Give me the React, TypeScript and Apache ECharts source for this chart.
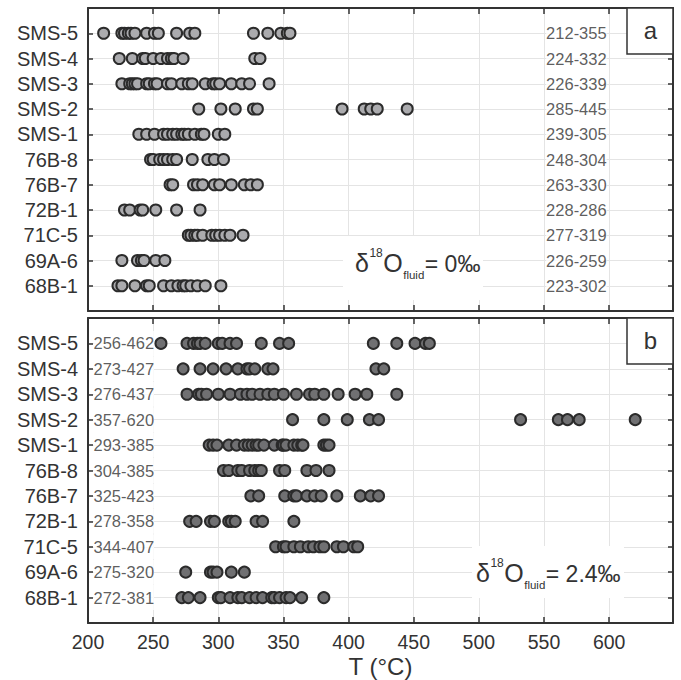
import React, { useEffect, useRef } from "react";
import * as echarts from "echarts";

// Sample names, top to bottom
const categories = ["SMS-5", "SMS-4", "SMS-3", "SMS-2", "SMS-1", "76B-8", "76B-7", "72B-1", "71C-5", "69A-6", "68B-1"];

// Temperatures (°C) for δ18O fluid = 0‰
const sms5A = [212, 226, 228, 231, 233, 236, 245, 251, 254, 268, 278, 282, 327, 338, 348, 353, 355];
const sms4A = [224, 234, 242, 244, 250, 256, 261, 264, 266, 273, 328, 332];
const sms3A = [226, 232, 234, 236, 238, 245, 247, 251, 253, 261, 264, 272, 277, 280, 290, 296, 298, 301, 310, 318, 324, 339];
const sms2A = [285, 302, 313, 327, 330, 395, 412, 417, 422, 445];
const sms1A = [239, 245, 251, 258, 261, 265, 268, 272, 274, 277, 282, 287, 289, 300, 305];
const s76B8A = [248, 250, 255, 258, 261, 265, 268, 280, 292, 297, 304];
const s76B7A = [263, 265, 281, 284, 288, 297, 301, 310, 320, 325, 330];
const s72B1A = [228, 232, 240, 242, 252, 268, 286];
const s71C5A = [277, 279, 282, 284, 288, 295, 298, 301, 305, 309, 319];
const s69A6A = [226, 238, 241, 243, 252, 259];
const s68B1A = [223, 226, 236, 245, 247, 258, 264, 269, 273, 275, 279, 284, 290, 302];

// Temperatures (°C) for δ18O fluid = 2.4‰
const sms5B = [256, 276, 281, 284, 286, 290, 300, 303, 309, 314, 333, 347, 354, 419, 437, 451, 459, 462];
const sms4B = [273, 286, 296, 306, 315, 322, 324, 328, 338, 342, 421, 427];
const sms3B = [276, 285, 287, 291, 300, 309, 317, 322, 326, 332, 338, 343, 350, 360, 370, 374, 381, 392, 405, 414, 437];
const sms2B = [357, 381, 399, 416, 423, 532, 561, 568, 577, 620];
const sms1B = [293, 296, 299, 308, 314, 320, 323, 326, 329, 331, 335, 343, 349, 350, 352, 358, 361, 364, 365, 381, 383, 385];
const s76B8B = [304, 308, 315, 318, 324, 328, 331, 333, 347, 351, 368, 375, 385];
const s76B7B = [325, 331, 351, 358, 360, 368, 374, 379, 391, 409, 417, 423];
const s72B1B = [278, 283, 294, 297, 308, 310, 313, 329, 334, 358];
const s71C5B = [344, 350, 352, 358, 363, 369, 373, 378, 381, 391, 396, 404, 407];
const s69A6B = [275, 294, 296, 299, 310, 320];
const s68B1B = [272, 277, 286, 300, 302, 309, 315, 318, 324, 329, 334, 341, 343, 347, 352, 355, 364, 381];

const setsA = [sms5A, sms4A, sms3A, sms2A, sms1A, s76B8A, s76B7A, s72B1A, s71C5A, s69A6A, s68B1A];
const setsB = [sms5B, sms4B, sms3B, sms2B, sms1B, s76B8B, s76B7B, s72B1B, s71C5B, s69A6B, s68B1B];

const xTicks = { min: 200, max: 649, interval: 50 };

const FONT = "'Liberation Sans', Arial, Helvetica, sans-serif";
const INK = "#333333";
const GRID = "#e4e4e4";

const rangeText = (arr: number[]) => `${Math.min(...arr)}-${Math.max(...arr)}`;

function xAxisFor(gridIndex: number, position: "top" | "bottom", labelled: boolean) {
  return {
    type: "value",
    gridIndex,
    position,
    ...xTicks,
    axisLine: { show: true, onZero: false, lineStyle: { color: INK, width: 2 } },
    axisTick: { show: true, inside: true, length: 6, lineStyle: { color: INK, width: 1.5 } },
    axisLabel: labelled
      ? { show: true, fontSize: 19.5, color: INK, fontFamily: FONT, margin: 9, showMaxLabel: false }
      : { show: false },
    splitLine: { show: position === "bottom", lineStyle: { color: GRID, width: 1 } },
    name: labelled ? "T (°C)" : "",
    nameLocation: "middle",
    nameGap: 31,
    nameTextStyle: { fontSize: 24, color: INK, fontFamily: FONT },
  };
}

function yAxisFor(gridIndex: number, position: "left" | "right") {
  return {
    type: "value",
    gridIndex,
    position,
    min: 0,
    max: 12,
    interval: 1,
    inverse: true,
    axisLine: { show: true, onZero: false, lineStyle: { color: INK, width: 2 } },
    axisTick: { show: true, inside: true, length: 5, lineStyle: { color: INK, width: 1.5 } },
    axisLabel:
      position === "left"
        ? {
            show: true,
            fontSize: 20,
            color: INK,
            fontFamily: FONT,
            margin: 10,
            formatter: (v: number) => (v >= 1 && v <= categories.length ? categories[v - 1] : ""),
          }
        : { show: false },
    splitLine: { show: position === "left", lineStyle: { color: GRID, width: 1 } },
  };
}

function pointSeries(sets: number[][], axisIndex: number, fill: string) {
  return sets.map((arr, i) => ({
    type: "scatter",
    name: categories[i],
    xAxisIndex: axisIndex,
    yAxisIndex: axisIndex,
    symbol: "circle",
    symbolSize: 11,
    z: 3,
    itemStyle: { color: fill, borderColor: "#2b2b2b", borderWidth: 2, opacity: 1 },
    data: arr.map((t) => [t, i + 1]),
  }));
}

function rangeSeries(sets: number[][], axisIndex: number, xAt: number, side: "left" | "right") {
  return {
    type: "scatter",
    xAxisIndex: axisIndex,
    yAxisIndex: axisIndex,
    symbolSize: 1,
    z: 2,
    itemStyle: { color: "rgba(0,0,0,0)" },
    label: {
      show: true,
      position: side,
      distance: side === "left" ? 2 : 5,
      formatter: (p: any) => p.name,
      fontSize: 16.5,
      lineHeight: 17,
      color: INK,
      fontFamily: FONT,
      backgroundColor: "#ffffff",
      padding: [4, 0, 4, 0],
    },
    data: sets.map((arr, i) => ({ name: rangeText(arr), value: [xAt, i + 1] })),
  };
}

function panelTag(letter: string, top: number) {
  return [
    {
      type: "rect",
      z: 10,
      shape: { x: 627, y: top, width: 46, height: 46 },
      style: { fill: "#ffffff", stroke: INK, lineWidth: 1.5 },
    },
    {
      type: "text",
      z: 11,
      x: 650.5,
      y: top + 22.5,
      style: { text: letter, fontSize: 24, fill: INK, fontFamily: FONT, align: "center", verticalAlign: "middle" },
    },
  ];
}

// δ18O(fluid) annotation: baseline at `base`, left edge at `left`, pieces laid out side by side
function fluidNote(value: string, left: number, base: number, box: number[]) {
  const mid = (size: number, b: number) => b - 0.3465 * size;
  const txt = (text: string, x: number, y: number, size: number) => ({
    type: "text",
    z: 11,
    x,
    y,
    style: { text, fontSize: size, fill: INK, fontFamily: FONT, align: "left", verticalAlign: "middle" },
  });
  return [
    {
      type: "rect",
      z: 10,
      shape: { x: box[0], y: box[1], width: box[2], height: box[3] },
      style: { fill: "#ffffff", stroke: null },
    },
    txt("δ", left, mid(25, base), 25),
    txt("18", left + 14.4, mid(12, base - 15), 12),
    txt("O", left + 28.2, mid(25, base), 25),
    txt("fluid", left + 48.2, mid(11.5, base + 7.6), 11.5),
    txt(`= ${value}‰`, left + 69.8, mid(23, base), 23),
  ];
}

export default function App() {
  const ref = useRef<HTMLDivElement>(null);

  useEffect(() => {
    document.body.style.margin = "0";
    if (!ref.current) return;
    const chart = echarts.init(ref.current, undefined, { renderer: "svg" });
    chart.setOption({
      animation: false,
      backgroundColor: "#ffffff",
      textStyle: { fontFamily: FONT },
      grid: [
        { left: 88, width: 585, top: 8, height: 303 },
        { left: 88, width: 585, top: 318, height: 305 },
      ],
      xAxis: [
        xAxisFor(0, "bottom", false),
        xAxisFor(0, "top", false),
        xAxisFor(1, "bottom", true),
        xAxisFor(1, "top", false),
      ],
      yAxis: [yAxisFor(0, "left"), yAxisFor(0, "right"), yAxisFor(1, "left"), yAxisFor(1, "right")],
      series: [
        ...pointSeries(setsA, 0, "#ababae"),
        ...pointSeries(setsB, 2, "#707072"),
        rangeSeries(setsA, 0, 600, "left"),
        rangeSeries(setsB, 2, 200, "right"),
      ],
      graphic: [
        ...panelTag("a", 8),
        ...panelTag("b", 318),
        ...fluidNote("0", 355, 271.7, [343, 236, 140, 64]),
        ...fluidNote("2.4", 476, 581.7, [472, 546, 152, 52]),
      ],
    });
    return () => chart.dispose();
  }, []);

  return <div ref={ref} style={{ width: 681, height: 680, display: "block" }} />;
}
